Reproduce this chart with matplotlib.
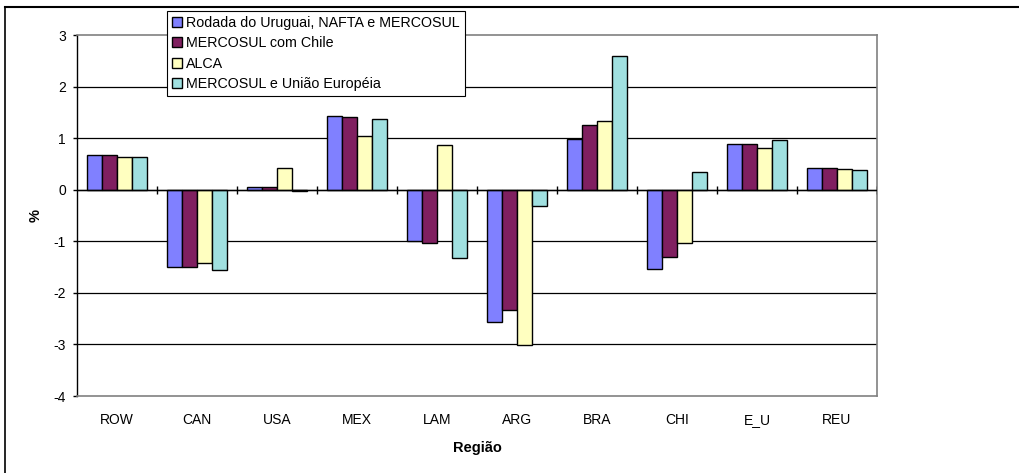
import numpy as np
import matplotlib
matplotlib.use("Agg")
import matplotlib.pyplot as plt
from matplotlib.lines import Line2D

plt.rcParams['font.family'] = ['Liberation Sans', 'DejaVu Sans']
plt.rcParams['axes.unicode_minus'] = False

# data
regions = ['ROW', 'CAN', 'USA', 'MEX', 'LAM', 'ARG', 'BRA', 'CHI', 'E_U', 'REU']
series_names = ['Rodada do Uruguai, NAFTA e MERCOSUL', 'MERCOSUL com Chile',
                'ALCA', 'MERCOSUL e União Européia']
uruguai_nafta = [0.68, -1.50, 0.05, 1.43, -1.00, -2.57, 0.99, -1.53, 0.88, 0.43]
mercosul_chile = [0.68, -1.50, 0.05, 1.41, -1.03, -2.33, 1.25, -1.30, 0.88, 0.43]
alca = [0.63, -1.43, 0.42, 1.05, 0.87, -3.01, 1.33, -1.03, 0.80, 0.40]
mercosul_ue = [0.63, -1.56, -0.03, 1.38, -1.33, -0.31, 2.60, 0.35, 0.96, 0.38]
y_ticks = [-4, -3, -2, -1, 0, 1, 2, 3]

colors = ['#8080FF', '#802060', '#FFFFC0', '#A0E0E0']
all_series = [uruguai_nafta, mercosul_chile, alca, mercosul_ue]

fig = plt.figure(figsize=(10.2, 4.73), dpi=100)
ax = fig.add_axes([77 / 1020, 1 - 396 / 473, 800 / 1020, 361 / 473])

x = np.arange(len(regions))
w = 0.1875
for i, (vals, col, name) in enumerate(zip(all_series, colors, series_names)):
    ax.bar(x + (i - 1.5) * w, vals, width=w, color=col, edgecolor='black',
           linewidth=1.0, label=name, zorder=3)

ax.set_xlim(-0.5, len(regions) - 0.5)
ax.set_ylim(-4, 3)
ax.set_yticks(y_ticks)
ax.set_yticklabels([str(t) for t in y_ticks])

# gridlines and zero axis with category separators
for t in y_ticks[1:-1]:
    ax.axhline(t, color='black', linewidth=0.9, zorder=1)
ax.axhline(0, color='black', linewidth=1.0, zorder=4)
ax.vlines(np.arange(len(regions)) + 0.5, -0.08, 0.08, color='black',
          linewidth=1.0, zorder=4)

for side in ['top', 'right', 'bottom']:
    ax.spines[side].set_color('#808080')
    ax.spines[side].set_linewidth(1.2)
ax.spines['left'].set_color('black')
ax.spines['left'].set_linewidth(1.0)

ax.set_xticks(x)
ax.set_xticklabels(regions, fontsize=10)
ax.tick_params(axis='x', length=0, pad=12)
ax.tick_params(axis='y', labelsize=10, length=3, width=1.0, pad=5)

ax.set_ylabel('%', fontsize=10.5, fontweight='bold', labelpad=8)
ax.set_xlabel('Região', fontsize=10.5, fontweight='bold', labelpad=10)

leg = fig.legend(loc='upper left', bbox_to_anchor=(167 / 1020, 1 - 11 / 473),
                 fontsize=10.3, frameon=True, fancybox=False, edgecolor='black',
                 framealpha=1, borderpad=0.35, labelspacing=0.45,
                 handlelength=0.7, handleheight=0.7, handletextpad=0.3,
                 borderaxespad=0)
leg.get_frame().set_linewidth(0.8)
leg.set_zorder(10)

# outer chart frame (left and top edges only visible)
fig.add_artist(Line2D([5 / 1020, 5 / 1020], [0, 1 - 7 / 473], color='black',
                      linewidth=1.2, transform=fig.transFigure))
fig.add_artist(Line2D([5 / 1020, 1], [1 - 7 / 473, 1 - 7 / 473], color='black',
                      linewidth=1.5, transform=fig.transFigure))

fig.savefig('out.png', dpi=100)
